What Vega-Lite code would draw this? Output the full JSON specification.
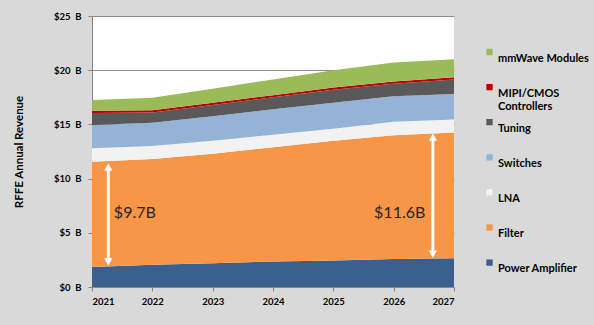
{
  "$schema": "https://vega.github.io/schema/vega-lite/v6.json",
  "width": 362,
  "height": 271,
  "autosize": "none",
  "padding": {"left": 92, "top": 16, "right": 140, "bottom": 38},
  "background": "#d9d9d9",
  "view": {"fill": "white", "stroke": null},
  "config": {"font": "Lato"},
  "datasets": {
    "rev": [
      {"year": 2021, "segment": "Power Amplifier", "rank": 1, "revenue": 1.85},
      {"year": 2022, "segment": "Power Amplifier", "rank": 1, "revenue": 2.05},
      {"year": 2023, "segment": "Power Amplifier", "rank": 1, "revenue": 2.2},
      {"year": 2024, "segment": "Power Amplifier", "rank": 1, "revenue": 2.35},
      {"year": 2025, "segment": "Power Amplifier", "rank": 1, "revenue": 2.45},
      {"year": 2026, "segment": "Power Amplifier", "rank": 1, "revenue": 2.58},
      {"year": 2027, "segment": "Power Amplifier", "rank": 1, "revenue": 2.65},
      {"year": 2021, "segment": "Filter", "rank": 2, "revenue": 9.7},
      {"year": 2022, "segment": "Filter", "rank": 2, "revenue": 9.75},
      {"year": 2023, "segment": "Filter", "rank": 2, "revenue": 10.1},
      {"year": 2024, "segment": "Filter", "rank": 2, "revenue": 10.55},
      {"year": 2025, "segment": "Filter", "rank": 2, "revenue": 11.05},
      {"year": 2026, "segment": "Filter", "rank": 2, "revenue": 11.42},
      {"year": 2027, "segment": "Filter", "rank": 2, "revenue": 11.6},
      {"year": 2021, "segment": "LNA", "rank": 3, "revenue": 1.25},
      {"year": 2022, "segment": "LNA", "rank": 3, "revenue": 1.2},
      {"year": 2023, "segment": "LNA", "rank": 3, "revenue": 1.2},
      {"year": 2024, "segment": "LNA", "rank": 3, "revenue": 1.15},
      {"year": 2025, "segment": "LNA", "rank": 3, "revenue": 1.1},
      {"year": 2026, "segment": "LNA", "rank": 3, "revenue": 1.25},
      {"year": 2027, "segment": "LNA", "rank": 3, "revenue": 1.2},
      {"year": 2021, "segment": "Switches", "rank": 4, "revenue": 2.15},
      {"year": 2022, "segment": "Switches", "rank": 4, "revenue": 2.15},
      {"year": 2023, "segment": "Switches", "rank": 4, "revenue": 2.25},
      {"year": 2024, "segment": "Switches", "rank": 4, "revenue": 2.35},
      {"year": 2025, "segment": "Switches", "rank": 4, "revenue": 2.4},
      {"year": 2026, "segment": "Switches", "rank": 4, "revenue": 2.35},
      {"year": 2027, "segment": "Switches", "rank": 4, "revenue": 2.35},
      {"year": 2021, "segment": "Tuning", "rank": 5, "revenue": 1.1},
      {"year": 2022, "segment": "Tuning", "rank": 5, "revenue": 0.95},
      {"year": 2023, "segment": "Tuning", "rank": 5, "revenue": 1.05},
      {"year": 2024, "segment": "Tuning", "rank": 5, "revenue": 1.1},
      {"year": 2025, "segment": "Tuning", "rank": 5, "revenue": 1.2},
      {"year": 2026, "segment": "Tuning", "rank": 5, "revenue": 1.15},
      {"year": 2027, "segment": "Tuning", "rank": 5, "revenue": 1.35},
      {"year": 2021, "segment": "MIPI/CMOS Controllers", "rank": 6, "revenue": 0.2},
      {"year": 2022, "segment": "MIPI/CMOS Controllers", "rank": 6, "revenue": 0.2},
      {"year": 2023, "segment": "MIPI/CMOS Controllers", "rank": 6, "revenue": 0.2},
      {"year": 2024, "segment": "MIPI/CMOS Controllers", "rank": 6, "revenue": 0.2},
      {"year": 2025, "segment": "MIPI/CMOS Controllers", "rank": 6, "revenue": 0.2},
      {"year": 2026, "segment": "MIPI/CMOS Controllers", "rank": 6, "revenue": 0.2},
      {"year": 2027, "segment": "MIPI/CMOS Controllers", "rank": 6, "revenue": 0.2},
      {"year": 2021, "segment": "mmWave Modules", "rank": 7, "revenue": 1.0},
      {"year": 2022, "segment": "mmWave Modules", "rank": 7, "revenue": 1.15},
      {"year": 2023, "segment": "mmWave Modules", "rank": 7, "revenue": 1.3},
      {"year": 2024, "segment": "mmWave Modules", "rank": 7, "revenue": 1.45},
      {"year": 2025, "segment": "mmWave Modules", "rank": 7, "revenue": 1.6},
      {"year": 2026, "segment": "mmWave Modules", "rank": 7, "revenue": 1.75},
      {"year": 2027, "segment": "mmWave Modules", "rank": 7, "revenue": 1.65}
    ],
    "arrows": [
      {"x": 2021.27, "lo": 2.31, "hi": 11.07},
      {"x": 2026.65, "lo": 3.04, "hi": 13.83}
    ],
    "heads": [
      {"x": 2021.27, "y": 11.07, "dir": "up"},
      {"x": 2021.27, "y": 2.31, "dir": "down"},
      {"x": 2026.65, "y": 13.83, "dir": "up"},
      {"x": 2026.65, "y": 3.04, "dir": "down"}
    ],
    "notes": [
      {"x": 2021.71, "y": 6.83, "label": "$9.7B"},
      {"x": 2026.1, "y": 6.83, "label": "$11.6B"}
    ]
  },
  "layer": [
    {
      "data": {"name": "rev"},
      "mark": {"type": "area", "interpolate": "linear"},
      "encoding": {
        "x": {
          "field": "year", "type": "quantitative",
          "scale": {"domain": [2021, 2027], "nice": false, "zero": false},
          "axis": {
            "title": null, "values": [2021, 2022, 2023, 2024, 2025, 2026, 2027], "format": "d",
            "grid": false, "labelFontWeight": "bold", "labelFontSize": 9.5, "labelColor": "#000000",
            "domainColor": "#868686", "tickColor": "#868686", "tickSize": 4, "labelPadding": 5
          }
        },
        "y": {
          "field": "revenue", "type": "quantitative", "stack": "zero",
          "scale": {"domain": [0, 25], "nice": false},
          "axis": {
            "title": "RFFE Annual Revenue", "titleFontWeight": "bold", "titleFontSize": 11.5, "titleColor": "#000000",
            "titleX": -68,
            "values": [0, 5, 10, 15, 20, 25],
            "labelExpr": "'$' + datum.value + '\u00a0\u00a0B'",
            "labelFontWeight": "bold", "labelFontSize": 9.5, "labelColor": "#000000",
            "grid": true, "gridColor": "#8c8c8c", "gridWidth": 1,
            "domainColor": "#868686", "tickColor": "#868686", "tickSize": 4, "labelPadding": 7
          }
        },
        "color": {
          "field": "segment", "type": "nominal",
          "scale": {
            "domain": ["mmWave Modules", "MIPI/CMOS Controllers", "Tuning", "Switches", "LNA", "Filter", "Power Amplifier"],
            "range": ["#9bbb59", "#c00000", "#595959", "#95b3d7", "#f2f2f2", "#f79646", "#3b5f8e"]
          },
          "legend": {
            "title": null, "orient": "none", "legendX": 392, "legendY": 29,
            "symbolType": "square", "symbolSize": 40, "symbolStrokeWidth": 0, "symbolOpacity": 1,
            "labelFontWeight": "bold", "labelFontSize": 11, "labelColor": "#000000", "labelLimit": 200,
            "labelOffset": 3, "clipHeight": 14, "rowPadding": 3.1, "gridAlign": "all",
            "labelExpr": "datum.label == 'MIPI/CMOS Controllers' ? ['MIPI/CMOS', 'Controllers'] : [datum.label, '']",
            "encode": {
              "labels": {"update": {"lineHeight": {"value": 13}, "dy": {"value": 6.5}}}
            }
          }
        },
        "order": {"field": "rank", "type": "quantitative", "sort": "ascending"}
      }
    },
    {
      "data": {"name": "arrows"},
      "mark": {"type": "rule", "color": "white", "strokeWidth": 3},
      "encoding": {
        "x": {"field": "x", "type": "quantitative"},
        "y": {"field": "lo", "type": "quantitative"},
        "y2": {"field": "hi"}
      }
    },
    {
      "data": {"name": "heads"},
      "mark": {"type": "point", "filled": true, "color": "white", "opacity": 1, "size": 70},
      "encoding": {
        "x": {"field": "x", "type": "quantitative"},
        "y": {"field": "y", "type": "quantitative"},
        "shape": {"field": "dir", "type": "nominal", "scale": {"domain": ["up", "down"], "range": ["triangle-up", "triangle-down"]}, "legend": null}
      }
    },
    {
      "data": {"name": "notes"},
      "mark": {"type": "text", "fontSize": 16, "color": "#262626", "align": "center", "baseline": "middle"},
      "encoding": {
        "x": {"field": "x", "type": "quantitative"},
        "y": {"field": "y", "type": "quantitative"},
        "text": {"field": "label"}
      }
    }
  ]
}
